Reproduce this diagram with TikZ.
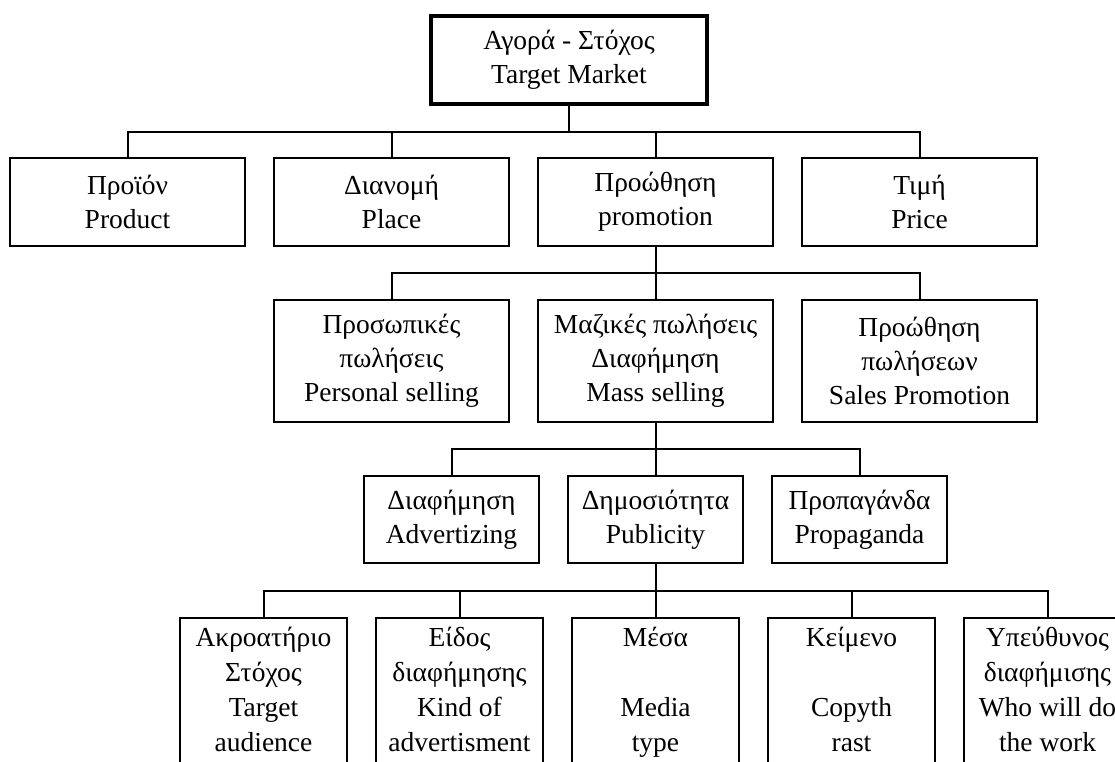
\documentclass[tikz,border=0pt]{standalone}
\usepackage{fontspec}
\setmainfont{Liberation Serif}
\usetikzlibrary{positioning}
\newcommand{\leafcell}[1]{\parbox[t][172pt][t]{160pt}{\centering\fontsize{27.5pt}{35pt}\selectfont\strut#1}}

\begin{document}
\begin{tikzpicture}[
  x=1pt, y=1pt,
  font=\fontsize{27.5pt}{34pt}\selectfont,
  box/.style={draw, line width=2pt, minimum width=235pt, minimum height=88pt, align=center, inner sep=2pt},
  midbox/.style={box, minimum width=175pt, minimum height=87pt},
  leaf/.style={draw, line width=2pt, inner sep=3.5pt, minimum width=167pt},
  link/.style={line width=2pt}
]
\useasboundingbox (0,0) rectangle (1115,-761);
\clip (0,0) rectangle (1115,-761);
\node[box, line width=4.5pt, minimum width=276pt, minimum height=88pt] (market) at (569,-60) {Αγορά - Στόχος\\Target Market};
\node[box] (product) at (127.5,-202) {Προϊόν\\Product};
\node[box, right=27pt of product] (place) {Διανομή\\Place};
\node[box, right=27pt of place] (promo) {Προώθηση\\promotion};
\node[box, right=27pt of promo] (price) {Τιμή\\Price};
\node[box, minimum height=122pt, below=52pt of place] (personal) {Προσωπικές\\πωλήσεις\\Personal selling};
\node[box, minimum height=122pt, below=52pt of promo] (mass) {Μαζικές πωλήσεις\\Διαφήμηση\\Mass selling};
\node[box, minimum height=122pt, below=52pt of price] (salesp) {Προώθηση\\πωλήσεων\\Sales Promotion};
\node[midbox, below=52pt of mass] (publicity) {Δημοσιότητα\\Publicity};
\node[midbox, left=27pt of publicity] (advert) {Διαφήμηση\\Advertizing};
\node[midbox, right=27pt of publicity] (propaganda) {Προπαγάνδα\\Propaganda};
\node[leaf, below=53pt of publicity] (media) {\leafcell{Μέσα\\[\baselineskip]Media\\type}};
\node[leaf, left=27pt of media] (kind) {\leafcell{Είδος\\διαφήμησης\\Kind of\\advertisment}};
\node[leaf, left=27pt of kind] (audience) {\leafcell{Ακροατήριο\\Στόχος\\Target\\audience}};
\node[leaf, right=27pt of media] (copy) {\leafcell{Κείμενο\\[\baselineskip]Copyth\\rast}};
\node[leaf, right=27pt of copy] (who) {\leafcell{Υπεύθυνος\\διαφήμισης\\Who will do\\the work}};
\foreach \kid in {product,place,promo,price}
  \draw[link] (market.south) -- ++(0,-26) -| (\kid.north);
\foreach \kid in {personal,mass,salesp}
  \draw[link] (promo.south) -- ++(0,-26) -| (\kid.north);
\foreach \kid in {advert,publicity,propaganda}
  \draw[link] (mass.south) -- ++(0,-26) -| (\kid.north);
\foreach \kid in {audience,kind,media,copy,who}
  \draw[link] (publicity.south) -- ++(0,-27) -| (\kid.north);
\end{tikzpicture}
\end{document}
